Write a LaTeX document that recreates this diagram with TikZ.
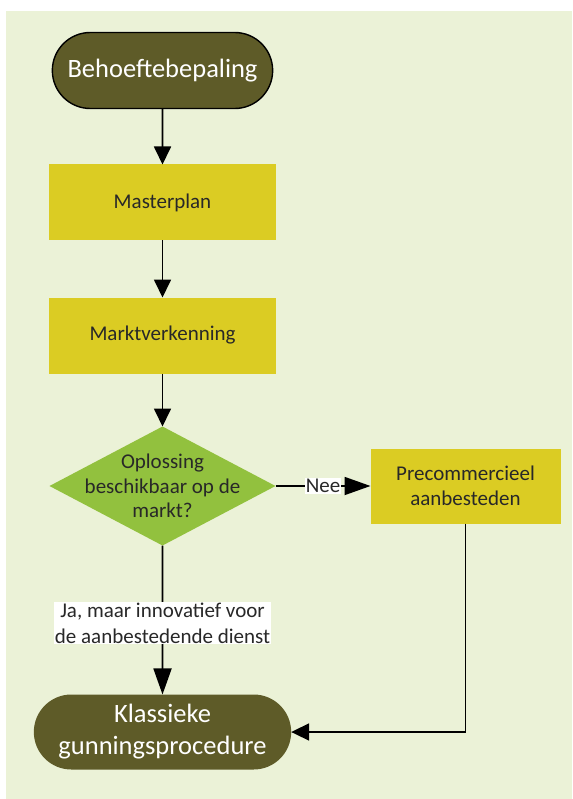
\documentclass[tikz,border=0pt]{standalone}
\usepackage{fontspec}
\setmainfont{Carlito}
\usetikzlibrary{arrows.meta,positioning,shapes.geometric,shapes.misc}
\definecolor{bgGreen}{RGB}{235,242,215}
\definecolor{oliveDark}{RGB}{94,91,40}
\definecolor{boxYellow}{RGB}{219,204,35}
\definecolor{leafGreen}{RGB}{146,193,62}
\definecolor{textGrey}{RGB}{40,40,40}

\begin{document}
\begin{tikzpicture}
    [x=1pt,y=-1pt,
    every node/.style={outer sep=0pt},
    terminal/.style={rounded rectangle,fill=oliveDark,text=white,minimum height=76pt,align=center,font=\fontsize{26.5}{32}\selectfont},
    process/.style={rectangle,fill=boxYellow,text=textGrey,minimum width=227pt,minimum height=76pt,align=center,font=\fontsize{21}{25}\selectfont},
    decision/.style={diamond,fill=leafGreen,minimum width=226pt,minimum height=119pt,inner sep=0pt},
    lbl/.style={fill=white,text=textGrey,inner sep=1pt,align=center,font=\fontsize{21}{26}\selectfont},
    flow/.style={line width=1.8pt,-{Triangle[length=18pt,width=17pt]}},
    flowlong/.style={line width=1.8pt,-{Triangle[length=26pt,width=18pt]}}]

    \useasboundingbox (0,0) rectangle (572,799);
    \fill[white] (0,0) rectangle (572,799);
    \fill[bgGreen] (6,11) rectangle (572,799);

    \node[terminal,draw=black,line width=1.4pt,minimum width=227pt] (Need) at (162.5,70.5) {Behoeftebepaling};
    \node[process] (Master) [below=56pt of Need] {Masterplan};
    \node[process] (Market) [below=57pt of Master] {Marktverkenning};
    \node[decision,label={[text=textGrey,align=center,font=\fontsize{21}{24.5}\selectfont]center:{Oplossing\\beschikbaar op de\\markt?}}] (Avail) [below=53pt of Market] {};
    \node[process,minimum width=190pt,minimum height=75pt] (PreCom) [right=95pt of Avail] {Precommercieel\\aanbesteden};
    \node[terminal,minimum width=264pt,minimum height=75pt] (Classic) [below=149pt of Avail] {Klassieke\\gunningsprocedure};

    \draw[flow] (Need) -- (Master);
    \draw[flow] (Master) -- (Market);
    \draw[flow] (Market) -- (Avail);
    \draw[flowlong] (Avail) -- node[lbl] {Nee} (PreCom);
    \draw[flowlong] (Avail) -- node[lbl,pos=0.52] {Ja, maar innovatief voor\\de aanbestedende dienst} (Classic);
    \draw[flow] (PreCom) |- (Classic);
\end{tikzpicture}
\end{document}
